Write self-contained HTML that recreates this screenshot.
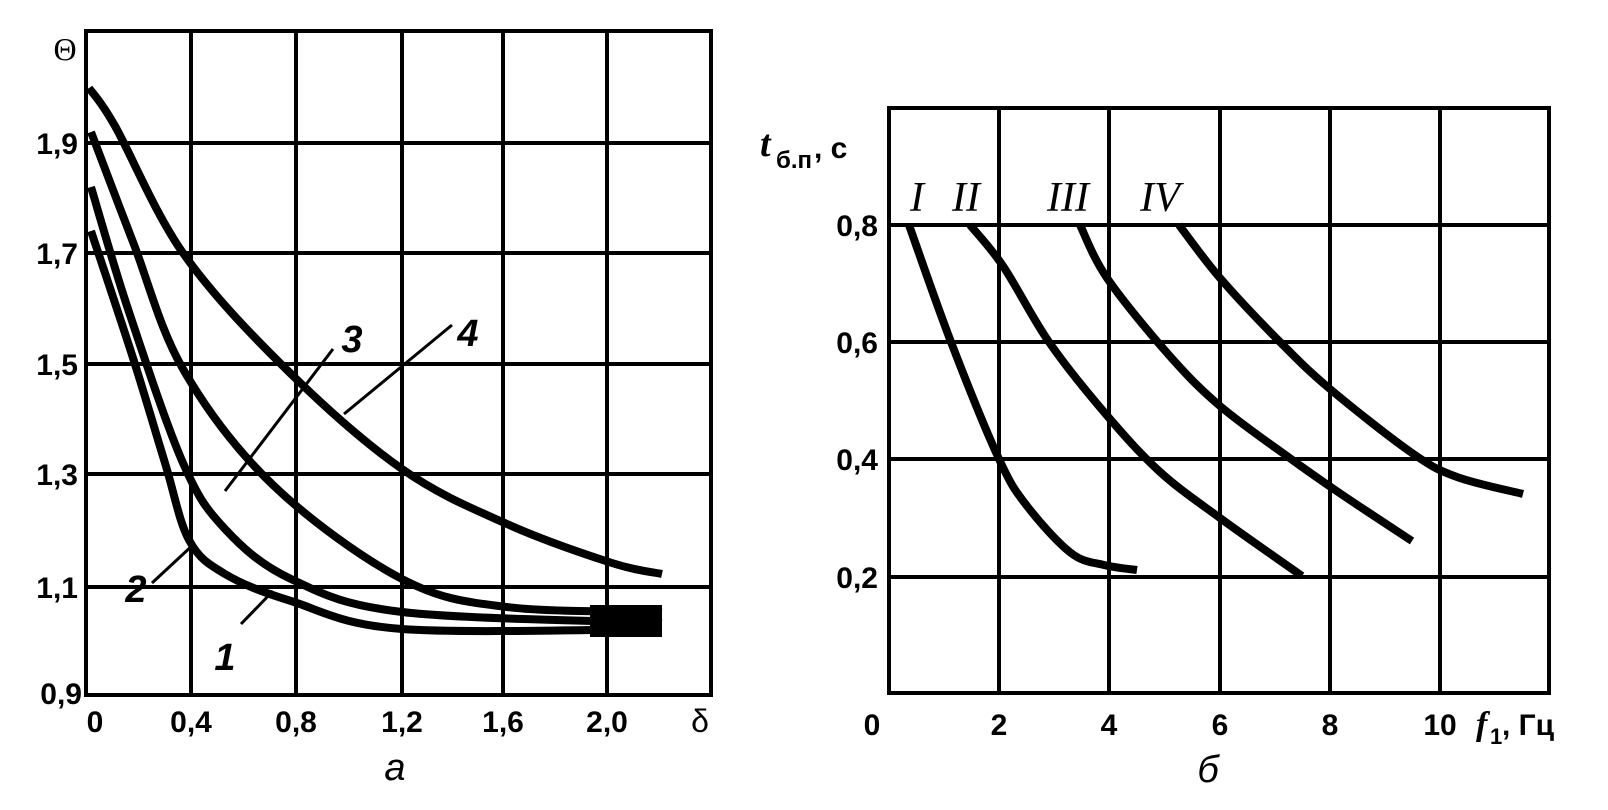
<!DOCTYPE html>
<html><head><meta charset="utf-8"><style>body{margin:0;background:#fff}svg{display:block}</style></head><body>
<svg id="s" width="1608" height="810" viewBox="0 0 1608 810" xmlns="http://www.w3.org/2000/svg" font-family="Liberation Sans, DejaVu Sans, sans-serif">
<rect width="1608" height="810" fill="#fff"/>
<!-- LEFT CHART -->
<g stroke="#000" stroke-width="4" fill="none">
<rect x="86" y="31" width="625" height="664"/>
<line x1="191" y1="31" x2="191" y2="695"/><line x1="296" y1="31" x2="296" y2="695"/>
<line x1="402" y1="31" x2="402" y2="695"/><line x1="503" y1="31" x2="503" y2="695"/>
<line x1="607" y1="31" x2="607" y2="695"/>
<line x1="86" y1="143" x2="711" y2="143"/><line x1="86" y1="253" x2="711" y2="253"/>
<line x1="86" y1="364" x2="711" y2="364"/><line x1="86" y1="474" x2="711" y2="474"/>
<line x1="86" y1="587" x2="711" y2="587"/>
</g>
<g stroke="#000" stroke-width="8" fill="none" stroke-linejoin="round" class="sm">
<polyline points="89,88 115,126 183,253 286,369 402,469 507,524 612,563 662,574"/>
<polyline points="91,132 133,242 183,369 273,485 402,579 507,607 662,612"/>
<polyline points="91,187 128,309 183,463 225,529 291,579 402,612 662,623"/>
<polyline points="91,231 133,358 165,463 189,540 225,574 291,601 402,629 662,629"/>
</g>
<rect x="590" y="605" width="72" height="32" fill="#000"/>
<g stroke="#000" stroke-width="3">
<line x1="225" y1="491" x2="333" y2="349"/><line x1="344" y1="414" x2="452" y2="325"/>
<line x1="152" y1="583" x2="194" y2="544"/><line x1="241" y1="624" x2="273" y2="591"/>
</g>
<g font-size="38" font-style="italic" font-weight="bold" text-anchor="middle">
<text x="352" y="352">3</text><text x="468" y="346">4</text>
<text x="136" y="602">2</text><text x="225" y="670">1</text>
</g>
<g font-size="30" font-weight="bold" text-anchor="end">
<text x="78" y="154">1,9</text><text x="78" y="264">1,7</text><text x="78" y="375">1,5</text>
<text x="78" y="485">1,3</text><text x="78" y="598">1,1</text><text x="82" y="704">0,9</text>
</g>
<text x="65" y="60" font-size="32" text-anchor="middle" font-family="Liberation Serif, serif">Θ</text>
<g font-size="30" font-weight="bold" text-anchor="middle">
<text x="95" y="732">0</text><text x="191" y="732">0,4</text><text x="296" y="732">0,8</text>
<text x="402" y="732">1,2</text><text x="503" y="732">1,6</text><text x="607" y="732">2,0</text>
<text x="700" y="732" font-weight="normal" font-size="32">δ</text>
<text x="395" y="780" font-size="38" font-weight="normal" font-style="italic">а</text>
</g>
<!-- RIGHT CHART -->
<g stroke="#000" stroke-width="4" fill="none">
<rect x="889" y="108" width="660" height="585"/>
<line x1="999" y1="108" x2="999" y2="693"/><line x1="1109" y1="108" x2="1109" y2="693"/>
<line x1="1220" y1="108" x2="1220" y2="693"/><line x1="1330" y1="108" x2="1330" y2="693"/>
<line x1="1440" y1="108" x2="1440" y2="693"/>
<line x1="889" y1="225" x2="1549" y2="225"/><line x1="889" y1="342" x2="1549" y2="342"/>
<line x1="889" y1="459" x2="1549" y2="459"/><line x1="889" y1="577" x2="1549" y2="577"/>
</g>
<g stroke="#000" stroke-width="8" fill="none" stroke-linejoin="round" class="sm">
<polyline points="909,225 951,342 999,459 1027,506 1071,553 1104,565 1137,570"/>
<polyline points="970,225 1003,266 1049,342 1104,412 1159,471 1220,518 1302,576"/>
<polyline points="1080,225 1107,278 1168,354 1220,406 1291,459 1341,494 1412,541"/>
<polyline points="1179,225 1220,278 1280,342 1330,389 1412,453 1457,477 1523,494"/>
</g>
<g font-size="42" font-style="italic" font-family="Liberation Serif, serif" text-anchor="middle">
<text x="917" y="211">I</text><text x="966" y="211">II</text><text x="1068" y="211">III</text><text x="1160" y="211">IV</text>
</g>
<g font-size="30" font-weight="bold" text-anchor="end">
<text x="878" y="236">0,8</text><text x="878" y="353">0,6</text><text x="878" y="470">0,4</text><text x="878" y="588">0,2</text>
</g>
<g font-size="30" font-weight="bold" text-anchor="middle">
<text x="872" y="735">0</text><text x="999" y="735">2</text><text x="1109" y="735">4</text>
<text x="1220" y="735">6</text><text x="1330" y="735">8</text><text x="1440" y="735">10</text>
<text x="1208" y="782" font-size="38" font-weight="normal" font-style="italic">б</text>
</g>
<text x="1476" y="735" font-size="34" font-style="italic" font-weight="bold" font-family="Liberation Serif, serif">f</text>
<text x="1490" y="744" font-size="22" font-weight="bold">1</text>
<text x="1502" y="735" font-size="30" font-weight="bold">, Гц</text>
<text x="760" y="156" font-size="38" font-style="italic" font-weight="bold" font-family="Liberation Serif, serif">t</text>
<text x="776" y="168" font-size="24" font-weight="bold">б.п</text>
<text x="814" y="158" font-size="30" font-weight="bold">, с</text>
</svg>
<script>
document.querySelectorAll('.sm polyline').forEach(function(pl){
 var p=pl.getAttribute('points').trim().split(/\s+/).map(function(s){return s.split(',').map(Number);});
 var d='M'+p[0][0]+','+p[0][1];
 for(var i=0;i<p.length-1;i++){
  var p0=p[i-1]||p[i],p1=p[i],p2=p[i+1],p3=p[i+2]||p2;
  var c1=[p1[0]+(p2[0]-p0[0])/6,p1[1]+(p2[1]-p0[1])/6],c2=[p2[0]-(p3[0]-p1[0])/6,p2[1]-(p3[1]-p1[1])/6];
  d+=' C'+c1[0]+','+c1[1]+' '+c2[0]+','+c2[1]+' '+p2[0]+','+p2[1];
 }
 var path=document.createElementNS('http://www.w3.org/2000/svg','path');
 path.setAttribute('d',d);pl.parentNode.replaceChild(path,pl);
});
</script>
</body></html>
